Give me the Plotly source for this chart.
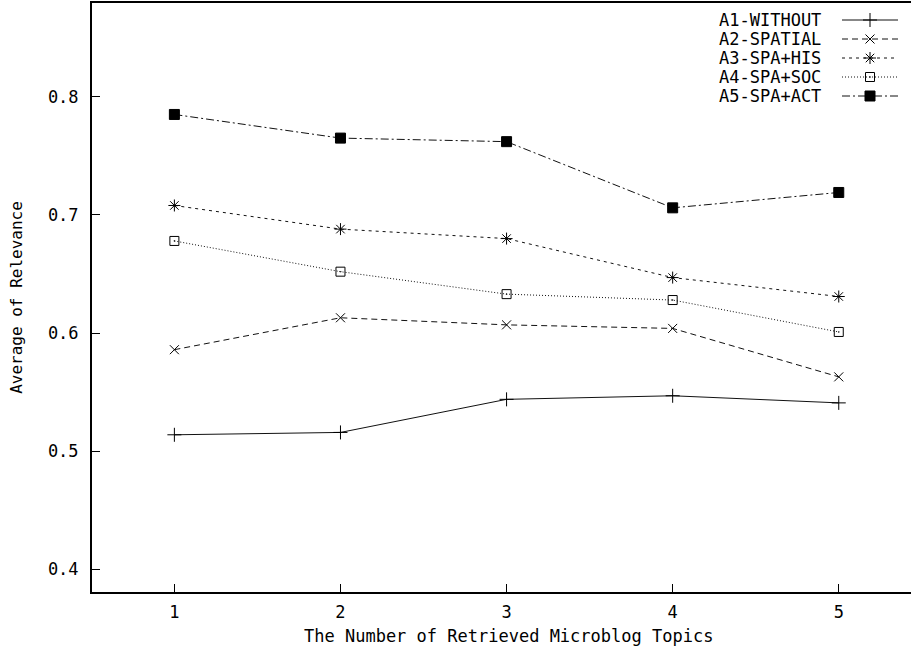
import plotly.graph_objects as go

topics = [1, 2, 3, 4, 5]
a1_without = [0.514, 0.516, 0.544, 0.547, 0.541]
a2_spatial = [0.586, 0.613, 0.607, 0.604, 0.563]
a3_spa_his = [0.708, 0.688, 0.680, 0.647, 0.631]
a4_spa_soc = [0.678, 0.652, 0.633, 0.628, 0.601]
a5_spa_act = [0.785, 0.765, 0.762, 0.706, 0.719]
series_names = ["A1-WITHOUT", "A2-SPATIAL", "A3-SPA+HIS", "A4-SPA+SOC", "A5-SPA+ACT"]
y_ticks = [0.4, 0.5, 0.6, 0.7, 0.8]
x_ticks = [1, 2, 3, 4, 5]

FONT = "DejaVu Sans Mono, monospace"
FS = 17
styles = [
    dict(dash="solid", symbol="cross-thin-open", size=10),
    dict(dash="6px,4px", symbol="x-thin-open", size=9),
    dict(dash="3px,4px", symbol="asterisk-open", size=10),
    dict(dash="1px,2px", symbol="square-open-dot", size=9),
    dict(dash="8px,3px,2px,3px", symbol="square", size=10),
]
all_series = [a1_without, a2_spatial, a3_spa_his, a4_spa_soc, a5_spa_act]

fig = go.Figure()
for name, vals, st in zip(series_names, all_series, styles):
    fig.add_trace(go.Scatter(
        x=topics, y=vals, name=name, mode="lines+markers",
        line=dict(color="#111", width=1, dash=st["dash"]),
        marker=dict(symbol=st["symbol"], size=st["size"], color="#000",
                    line=dict(color="#000", width=1)),
        showlegend=False,
    ))

# custom gnuplot-style key (text followed by sample)
row_y = [17, 36, 55, 74, 93]
for name, st, ry in zip(series_names, styles, row_y):
    fig.add_trace(go.Scatter(
        x=[750, 806], y=[ry, ry], xaxis="x2", yaxis="y2", mode="lines",
        line=dict(color="#111", width=1, dash=st["dash"]), showlegend=False,
        hoverinfo="skip"))
    fig.add_trace(go.Scatter(
        x=[778], y=[ry], xaxis="x2", yaxis="y2", mode="markers",
        marker=dict(symbol=st["symbol"], size=st["size"], color="#000",
                    line=dict(color="#000", width=1)),
        showlegend=False, hoverinfo="skip"))
    fig.add_annotation(x=731, y=ry, xref="x2", yref="y2", text=name,
                       showarrow=False, xanchor="right", yanchor="middle",
                       font=dict(family=FONT, size=FS, color="#000"))

fig.add_annotation(x=0.508, y=-0.0747, xref="paper", yref="paper",
                   text="The Number of Retrieved Microblog Topics",
                   showarrow=False, xanchor="center", yanchor="middle",
                   font=dict(family=FONT, size=FS, color="#000"))

fig.update_layout(
    width=911, height=655,
    margin=dict(l=92, r=0, t=3, b=63),
    paper_bgcolor="white", plot_bgcolor="white",
    font=dict(family=FONT, size=FS, color="#000"),
    xaxis=dict(range=[0.504, 5.435], tickvals=x_ticks, ticktext=[str(v) for v in x_ticks],
               showgrid=False, zeroline=False, showline=True, linecolor="#000",
               linewidth=2, mirror=True, ticks="inside", ticklen=8, tickwidth=1,
               tickcolor="#000", ticklabelstandoff=4),
    yaxis=dict(range=[0.381, 0.8793], tickvals=y_ticks,
               ticktext=[f"{v:.1f}" for v in y_ticks],
               showgrid=False, zeroline=False, showline=True, linecolor="#000",
               linewidth=2, mirror=False, ticks="inside", ticklen=8, tickwidth=1,
               tickcolor="#000", ticklabelstandoff=8,
               title=dict(text="Average of Relevance", standoff=21,
                          font=dict(family=FONT, size=16))),
    xaxis2=dict(domain=[0, 1], range=[0, 819], overlaying="x", visible=False,
                anchor="y2"),
    yaxis2=dict(domain=[0, 1], range=[589, 0], overlaying="y", visible=False,
                anchor="x2"),
)

fig.write_html("out.html")
